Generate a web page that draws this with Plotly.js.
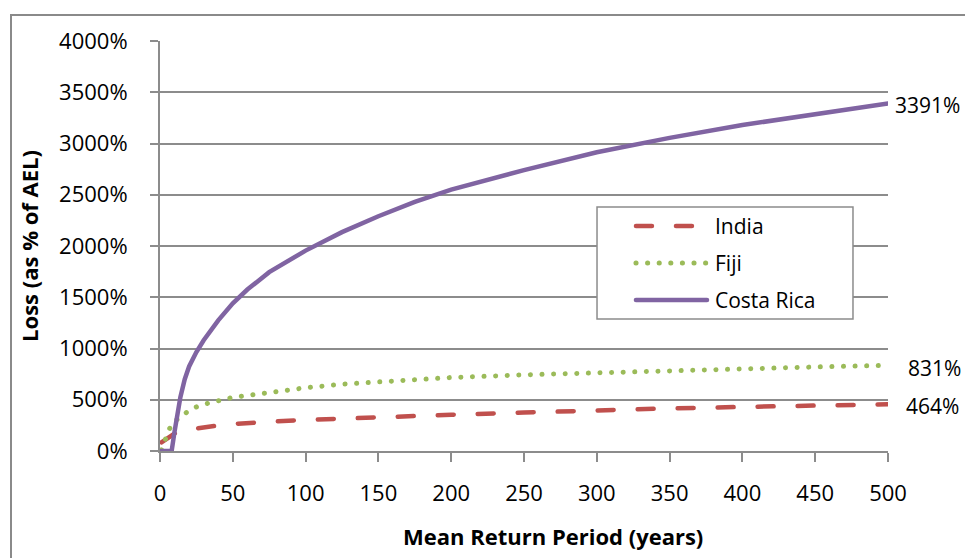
<!DOCTYPE html>
<html>
<head>
<meta charset="utf-8">
<script src="https://cdn.plot.ly/plotly-3.0.1.min.js"></script>
<style>
  body { margin: 0; padding: 0; background: #fff; }
  #wrap { position: relative; width: 965px; height: 558px; overflow: hidden; }
  #frame { position: absolute; left: 10px; top: 14px; width: 1000px; height: 600px;
           border: 2px solid #8a8a8a; pointer-events: none; }
  .scatterlayer path.js-line, .shapelayer path { stroke-linecap: round !important; }
</style>
</head>
<body>
<div id="wrap">
  <div id="myDiv" style="width:965px;height:558px;"></div>
  <div id="frame"></div>
</div>
<script>
  // return periods (years)
  var returnPeriod = [1, 2, 5, 8, 10, 12, 14, 17, 20, 25, 30, 40, 50, 60, 75, 100, 125, 150, 175, 200, 250, 300, 350, 400, 450, 500];

  // loss as % of AEL
  var india = [85, 95, 125, 155, 170, 180, 188, 198, 208, 220, 232, 250, 263, 275, 286, 303, 318, 330, 344, 354, 375, 398, 416, 430, 444, 456];
  var fiji = [10, 40, 170, 262, 290, 312, 330, 362, 395, 430, 455, 490, 523, 542, 573, 617, 652, 677, 697, 717, 743, 765, 786, 804, 820, 835];
  var costaRica = [0, 0, 0, 0, 190, 370, 525, 700, 825, 965, 1080, 1275, 1440, 1575, 1745, 1955, 2135, 2290, 2430, 2550, 2740, 2915, 3055, 3180, 3290, 3391];

  var seriesNames = ['India', 'Fiji', 'Costa Rica'];
  var seriesColors = ['#C0504D', '#9BBB59', '#8064A2'];
  var seriesDash = ['16px,24px', '0.1px,11.5px', 'solid'];
  var seriesWidth = [4.5, 5, 4.5];
  var endLabels = ['464%', '831%', '3391%'];

  var font = 'Open Sans, Noto Sans, sans-serif';
  var grey = '#8c8c8c';

  var series = [india, fiji, costaRica];
  var data = series.map(function (vals, i) {
    return {
      x: returnPeriod,
      y: vals,
      mode: 'lines',
      name: seriesNames[i],
      line: { color: seriesColors[i], width: seriesWidth[i], dash: seriesDash[i] }
    };
  });

  var last = returnPeriod.length - 1;

  // legend drawn by hand so the box and sample lines match the original
  var legX0 = 0.6003, legX1 = 0.9519, legY0 = 0.322, legY1 = 0.595;
  var sampleX0 = 0.6538, sampleX1 = 0.7514, textX = 0.7596;
  var rowY = [0.5488, 0.4585, 0.3683];

  var shapes = [{
    type: 'rect', xref: 'paper', yref: 'paper',
    x0: legX0, x1: legX1, y0: legY0, y1: legY1,
    fillcolor: '#fff', line: { color: grey, width: 1.5 }, layer: 'above'
  }];
  var annotations = [];
  seriesNames.forEach(function (name, i) {
    shapes.push({
      type: 'line', xref: 'paper', yref: 'paper',
      x0: sampleX0, x1: sampleX1, y0: rowY[i], y1: rowY[i],
      line: { color: seriesColors[i], width: seriesWidth[i], dash: seriesDash[i] }, layer: 'above'
    });
    annotations.push({
      xref: 'paper', yref: 'paper', x: textX, y: rowY[i], text: name,
      showarrow: false, xanchor: 'left', yanchor: 'middle',
      font: { family: font, size: 21, color: '#000' }
    });
  });

  var shifts = [[16, -2], [18, -3], [5, -2]];
  series.forEach(function (vals, i) {
    annotations.push({
      x: 500, y: vals[last], text: endLabels[i], showarrow: false,
      xanchor: 'left', xshift: shifts[i][0], yshift: shifts[i][1],
      font: { family: font, size: 21, color: '#000' }
    });
  });

  // x axis title sits right of centre in the original
  annotations.push({
    xref: 'paper', yref: 'paper', x: 0.54, y: 0, yshift: -85,
    xanchor: 'center', yanchor: 'middle', showarrow: false,
    text: 'Mean Return Period (years)',
    font: { family: font, size: 22, weight: 'bold', color: '#000' }
  });

  var layout = {
    width: 965,
    height: 558,
    margin: { l: 160, r: 77, t: 41, b: 107 },
    paper_bgcolor: 'rgba(0,0,0,0)',
    plot_bgcolor: 'rgba(0,0,0,0)',
    font: { family: font, size: 21, color: '#000' },
    showlegend: false,
    xaxis: {
      range: [0, 500],
      dtick: 50,
      tick0: 0,
      showgrid: false,
      zeroline: false,
      showline: true,
      linecolor: grey,
      linewidth: 2,
      ticks: 'outside',
      ticklen: 9,
      tickwidth: 2,
      tickcolor: grey,
      ticklabelstandoff: 13,
      tickfont: { family: font, size: 22 }
    },
    yaxis: {
      range: [0, 4000],
      dtick: 500,
      tick0: 0,
      ticksuffix: '%',
      showgrid: true,
      gridcolor: grey,
      gridwidth: 2,
      zeroline: false,
      showline: true,
      linecolor: grey,
      linewidth: 2,
      ticks: 'outside',
      ticklen: 8,
      tickwidth: 2,
      tickcolor: grey,
      ticklabelstandoff: 18,
      tickfont: { family: font, size: 22 },
      title: {
        text: 'Loss (as % of AEL)',
        font: { family: font, size: 22, weight: 'bold' },
        standoff: 14
      }
    },
    shapes: shapes,
    annotations: annotations
  };

  Plotly.newPlot('myDiv', data, layout, { displayModeBar: false, staticPlot: true });
</script>
</body>
</html>
